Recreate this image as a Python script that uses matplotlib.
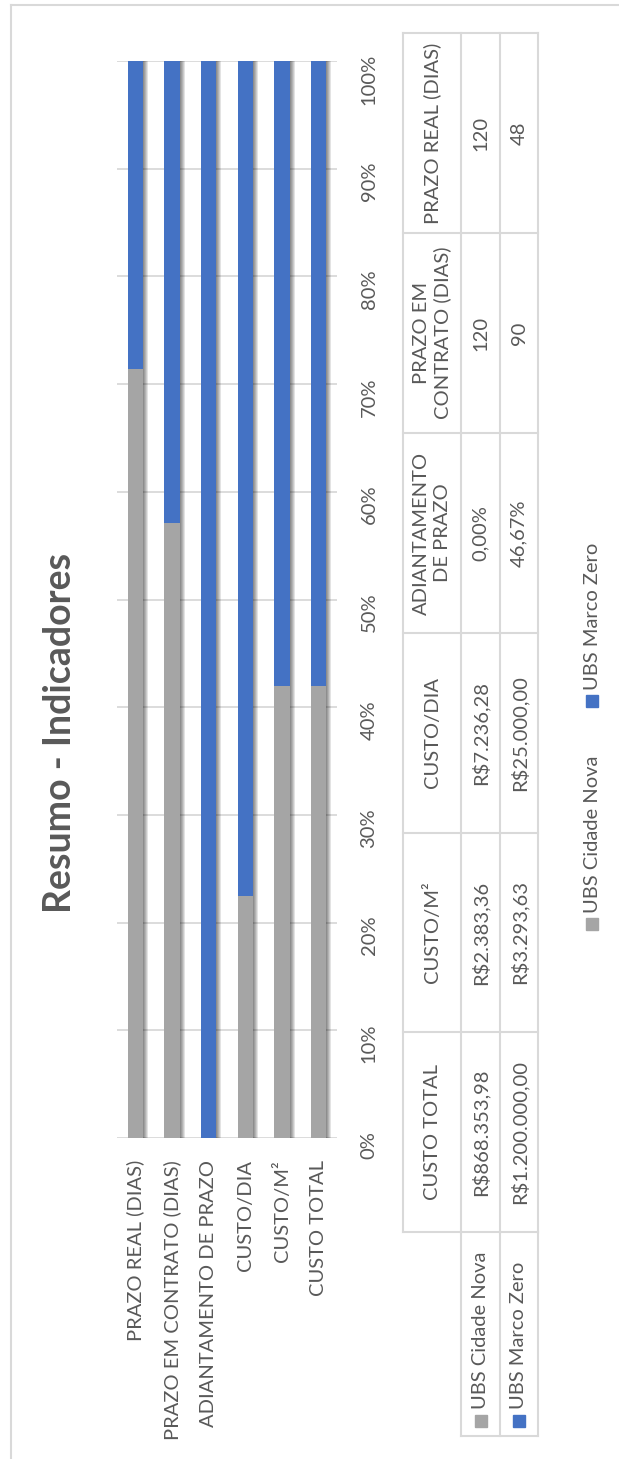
import numpy as np
import matplotlib
matplotlib.use("Agg")
import matplotlib.pyplot as plt
from matplotlib.ticker import PercentFormatter
from matplotlib.patches import Rectangle

plt.rcParams['font.family'] = ['Lato', 'DejaVu Sans']

categories = ["PRAZO REAL (DIAS)", "PRAZO EM CONTRATO (DIAS)", "ADIANTAMENTO DE PRAZO",
              "CUSTO/DIA", "CUSTO/M²", "CUSTO TOTAL"]
table_headers = ["PRAZO REAL (DIAS)", "PRAZO EM\nCONTRATO (DIAS)", "ADIANTAMENTO\nDE PRAZO",
                 "CUSTO/DIA", "CUSTO/M²", "CUSTO TOTAL"]
kinds = ["dias", "dias", "pct", "brl", "brl", "brl"]
series = ["UBS Cidade Nova", "UBS Marco Zero"]
cidade_nova = [120, 120, 0.00, 7236.28, 2383.36, 868353.98]
marco_zero = [48, 90, 46.67, 25000.00, 3293.63, 1200000.00]

GRAY = "#A5A5A5"
BLUE = "#4472C4"
TXT = "#595959"
LINE = "#D9D9D9"
fs = 14.5


def fmt(v, kind):
    if kind == "dias":
        return f"{v:g}"
    if kind == "pct":
        return f"{v:.2f}%".replace(".", ",")
    s = f"{v:,.2f}".replace(",", "X").replace(".", ",").replace("X", ".")
    return "R$" + s


W, H = 619, 1459
fig = plt.figure(figsize=(W / 100, H / 100), dpi=100)

# overlay in pixel coords for title, table, legend
ov = fig.add_axes([0, 0, 1, 1])
ov.set_xlim(0, W)
ov.set_ylim(H, 0)
ov.axis("off")

# frame
ov.plot([11, 11], [5, H], color=LINE, lw=1.5)
ov.plot([11, W], [5, 5], color=LINE, lw=1.5)

ov.text(60, 733, "Resumo - Indicadores", rotation=90, ha="center", va="center",
        fontsize=27, fontweight="bold", color=TXT)

# chart
cn = np.array(cidade_nova, dtype=float)
mz = np.array(marco_zero, dtype=float)
tot = cn + mz
share_cn = cn / tot
share_mz = mz / tot

ax = fig.add_axes([117 / W, 1 - 1138 / H, 220 / W, 1077 / H])
ax.patch.set_alpha(0)
x = np.arange(len(categories))
bw = 0.41
# soft shadow on the right side of each bar
for k in range(1, 6):
    ax.bar(x + 0.028 * k, share_cn + share_mz, width=bw, color="black", alpha=0.11, zorder=2)
ax.bar(x, share_cn, width=bw, color=GRAY, zorder=3)
ax.bar(x, share_mz, bottom=share_cn, width=bw, color=BLUE, zorder=3)
ax.set_xlim(-0.5, len(categories) - 0.5)
ax.set_ylim(0, 1)
ax.set_yticks(np.arange(0, 1.01, 0.1))
ax.yaxis.set_major_formatter(PercentFormatter(1.0, decimals=0))
ax.yaxis.grid(True, color=LINE, lw=1.3)
ax.set_axisbelow(True)
for sp in ax.spines.values():
    sp.set_visible(False)
ax.yaxis.set_ticks_position("right")
ax.tick_params(axis="y", length=0, labelright=True, labelleft=False,
               labelrotation=90, pad=17, labelsize=fs, labelcolor=TXT)
ax.set_xticks(x, categories)
ax.tick_params(axis="x", length=0, labelrotation=90, pad=16, labelsize=fs, labelcolor=TXT)

# data table
col_x = [403, 461, 500, 538]
row_y = [33, 233, 433, 633, 833, 1032, 1232, 1436]
lw = 1.5
for cx in col_x:
    ov.plot([cx, cx], [row_y[0], row_y[-2]], color=LINE, lw=lw)
for cx in col_x[1:]:
    ov.plot([cx, cx], [row_y[-2], row_y[-1]], color=LINE, lw=lw)
for ry in row_y[:-1]:
    ov.plot([col_x[0], col_x[-1]], [ry, ry], color=LINE, lw=lw)
ov.plot([col_x[1], col_x[-1]], [row_y[-1], row_y[-1]], color=LINE, lw=lw)

for i, head in enumerate(table_headers):
    yc = (row_y[i] + row_y[i + 1]) / 2
    ov.text((col_x[0] + col_x[1]) / 2, yc, head, rotation=90, ha="center", va="center",
            fontsize=fs, color=TXT, linespacing=1.25, multialignment="center")
    for j, vals in enumerate([cidade_nova, marco_zero]):
        ov.text((col_x[j + 1] + col_x[j + 2]) / 2, yc, fmt(vals[i], kinds[i]), rotation=90,
                ha="center", va="center", fontsize=fs, color=TXT)

for j, (name, c) in enumerate(zip(series, [GRAY, BLUE])):
    xc = (col_x[j + 1] + col_x[j + 2]) / 2
    ov.add_patch(Rectangle((xc - 6, 1415), 12, 12, color=c))
    ov.text(xc, 1409, name, rotation=90, ha="center", va="bottom", fontsize=fs, color=TXT)

# legend
for name, c, ky in zip(series, [GRAY, BLUE], [918, 695]):
    ov.add_patch(Rectangle((586, ky), 12, 12, color=c))
    ov.text(592, ky - 5, name, rotation=90, ha="center", va="bottom", fontsize=fs, color=TXT)

fig.savefig("out.png", dpi=100)
